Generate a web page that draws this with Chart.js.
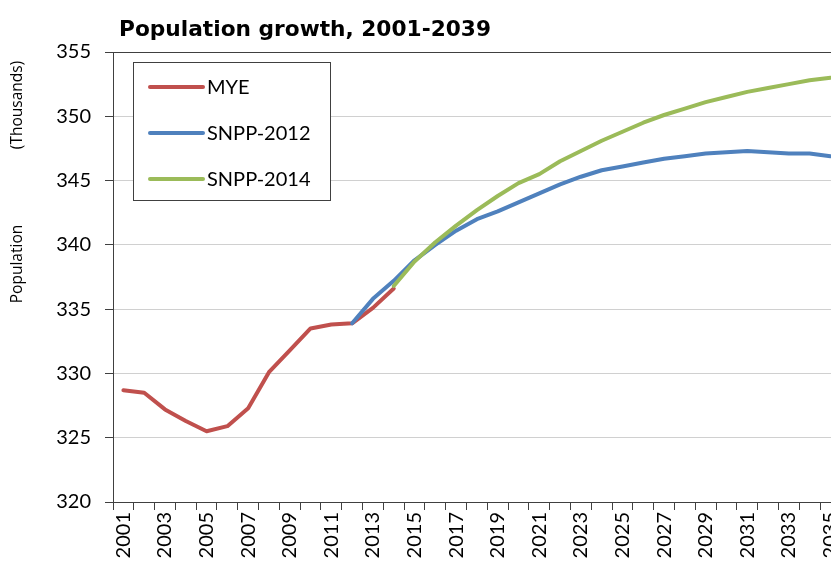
<!DOCTYPE html>
<html>
<head>
<meta charset="utf-8">
<script src="https://cdn.jsdelivr.net/npm/chart.js@4"></script>
<style>
html, body { margin:0; padding:0; overflow:hidden; background:#fff; width:831px; height:565px; }
#wrap { position:absolute; left:0; top:0; width:930px; height:565px; }
</style>
</head>
<body>
<div id="wrap"><canvas id="c" width="930" height="565"></canvas></div>
<script>
// Categories (the original chart runs 2001-2039; the picture is cropped at 2035)
const years = [];
for (let y = 2001; y <= 2039; y++) years.push(String(y));

// Series values (thousands)
const mye      = [328.7, 328.5, 327.2, 326.3, 325.5, 325.9, 327.3, 330.1, 331.8, 333.5, 333.8, 333.9, 335.1, 336.6];
const snpp2012 = [null, null, null, null, null, null, null, null, null, null, null,
                  333.9, 335.8, 337.2, 338.8, 340.0, 341.1, 342.0, 342.6, 343.3, 344.0, 344.7, 345.3, 345.8, 346.1,
                  346.4, 346.7, 346.9, 347.1, 347.2, 347.3, 347.2, 347.1, 347.1, 346.9];
const snpp2014 = [null, null, null, null, null, null, null, null, null, null, null, null, null,
                  336.8, 338.7, 340.2, 341.5, 342.7, 343.8, 344.8, 345.5, 346.5, 347.3, 348.1, 348.8,
                  349.5, 350.1, 350.6, 351.1, 351.5, 351.9, 352.2, 352.5, 352.8, 353.0];

const seriesNames = ['MYE', 'SNPP-2012', 'SNPP-2014'];
const seriesColors = ['#C0504D', '#4F81BD', '#9BBB59'];
const yTicks = [320, 325, 330, 335, 340, 345, 350, 355];

const titleText = 'Population growth, 2001-2039';
const yTitleA = 'Population';
const yTitleB = '(Thousands)';

const FONT = 'Lato, "Open Sans", sans-serif';
const AXIS = '#404040';

const overlay = {
  id: 'overlay',
  afterDraw(chart) {
    const ctx = chart.ctx;
    ctx.save();
    // title
    ctx.fillStyle = '#000';
    ctx.font = 'bold 21.7px "DejaVu Sans", sans-serif';
    ctx.textAlign = 'left';
    ctx.textBaseline = 'alphabetic';
    ctx.fillText(titleText, 119, 36);
    // y-axis title
    ctx.save();
    ctx.translate(18, 0);
    ctx.rotate(-Math.PI / 2);
    ctx.font = '15.5px "Open Sans", sans-serif';
    ctx.textAlign = 'center';
    ctx.textBaseline = 'middle';
    ctx.fillText(yTitleA, -264, 0);
    ctx.fillText(yTitleB, -105, 0);
    ctx.restore();
    // legend
    ctx.fillStyle = '#fff';
    ctx.fillRect(133.5, 62.5, 197, 138);
    ctx.strokeStyle = AXIS;
    ctx.lineWidth = 1;
    ctx.strokeRect(133.5, 62.5, 197, 138);
    const rows = [87, 133, 179];
    chart.data.datasets.forEach((ds, i) => {
      ctx.strokeStyle = ds.borderColor;
      ctx.lineWidth = 4;
      ctx.lineCap = 'round';
      ctx.beginPath();
      ctx.moveTo(150, rows[i]);
      ctx.lineTo(203, rows[i]);
      ctx.stroke();
      ctx.fillStyle = '#000';
      ctx.font = '20px ' + FONT;
      ctx.textAlign = 'left';
      ctx.textBaseline = 'middle';
      ctx.fillText(ds.label, 207, rows[i] + 1);
    });
    ctx.restore();
  }
};

const series = [mye, snpp2012, snpp2014];
new Chart(document.getElementById('c'), {
  type: 'line',
  data: {
    labels: years,
    datasets: series.map((d, i) => ({
      label: seriesNames[i],
      data: d,
      borderColor: seriesColors[i],
      backgroundColor: seriesColors[i],
      borderWidth: 4,
      pointRadius: 0,
      tension: 0,
      fill: false,
      spanGaps: false,
      borderCapStyle: 'round',
      borderJoinStyle: 'round',
      order: 3 - i
    }))
  },
  options: {
    responsive: false,
    animation: false,
    devicePixelRatio: 1,
    layout: { padding: { top: 52, right: 6, left: 0, bottom: 0 } },
    plugins: { legend: { display: false }, title: { display: false }, tooltip: { enabled: false } },
    scales: {
      x: {
        offset: true,
        grid: { display: true, offset: true, drawOnChartArea: false, drawTicks: true, tickLength: 8, tickColor: AXIS, color: AXIS },
        border: { display: true, color: AXIS, width: 1 },
        ticks: {
          autoSkip: false, minRotation: 90, maxRotation: 90, padding: 2,
          color: '#000', font: { family: FONT, size: 20 },
          callback: function(v, i) { return i % 2 === 0 ? this.getLabelForValue(v) : ''; }
        },
        afterFit(scale) { scale.height = 63; scale.paddingLeft = 0; scale.paddingRight = 0; }
      },
      y: {
        min: 320, max: 355,
        afterBuildTicks(scale) { scale.ticks = yTicks.map(v => ({ value: v })); },
        grid: {
          color: (c) => (c.tick && c.tick.value === 355) ? AXIS : '#d0d0d0',
          lineWidth: 1, drawTicks: true, tickLength: 8, tickColor: AXIS
        },
        border: { display: true, color: AXIS, width: 1 },
        ticks: { color: '#000', font: { family: FONT, size: 20 }, padding: 14 },
        afterFit(scale) { scale.width = 113; scale.paddingTop = 0; scale.paddingBottom = 0; }
      }
    }
  },
  plugins: [overlay]
});
</script>
</body>
</html>
